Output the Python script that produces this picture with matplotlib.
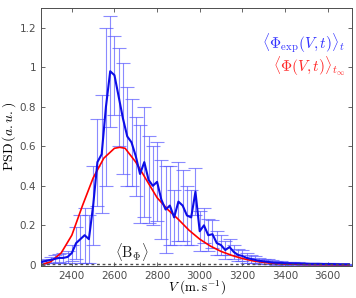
import matplotlib
matplotlib.use("Agg")
import matplotlib.pyplot as plt
import numpy as np

plt.rcParams['mathtext.fontset'] = 'cm'

# Experimental mean PSD (blue) with error bars
v_exp = [2260, 2280, 2300, 2320, 2340, 2360, 2380, 2400, 2420, 2440, 2460, 2480,
         2500, 2520, 2540, 2560, 2580, 2600, 2620, 2640, 2660, 2680, 2700, 2720,
         2740, 2760, 2780, 2800, 2820, 2840, 2860, 2880, 2900, 2920, 2940, 2960,
         2980, 3000, 3020, 3040, 3060, 3080, 3100, 3120, 3140, 3160, 3180, 3200,
         3220, 3240, 3260, 3280, 3300, 3320, 3340, 3360, 3380, 3400, 3420, 3440,
         3460, 3480, 3500, 3520, 3540, 3560, 3580, 3600, 3620, 3640, 3660, 3680, 3700]
psd_exp = [0.015, 0.02, 0.025, 0.03, 0.035, 0.035, 0.04, 0.06, 0.11, 0.13, 0.15, 0.13,
           0.30, 0.52, 0.56, 0.80, 0.98, 0.96, 0.85, 0.74, 0.65, 0.62, 0.55, 0.46,
           0.52, 0.43, 0.40, 0.42, 0.33, 0.28, 0.30, 0.24, 0.32, 0.30, 0.25, 0.24,
           0.37, 0.17, 0.20, 0.15, 0.155, 0.11, 0.10, 0.075, 0.09, 0.065, 0.05, 0.045,
           0.035, 0.03, 0.025, 0.02, 0.018, 0.015, 0.012, 0.01, 0.01, 0.008, 0.008, 0.007,
           0.007, 0.006, 0.006, 0.005, 0.005, 0.005, 0.004, 0.004, 0.004, 0.003, 0.003, 0.003, 0.003]
err_exp = [0.01, 0.012, 0.015, 0.02, 0.02, 0.025, 0.03, 0.04, 0.08, 0.12, 0.14, 0.12,
           0.20, 0.22, 0.30, 0.40, 0.28, 0.20, 0.25, 0.28, 0.25, 0.22, 0.20, 0.25,
           0.28, 0.22, 0.20, 0.20, 0.20, 0.22, 0.20, 0.14, 0.20, 0.18, 0.15, 0.14,
           0.12, 0.10, 0.09, 0.08, 0.07, 0.06, 0.05, 0.045, 0.04, 0.035, 0.03, 0.028,
           0.025, 0.02, 0.018, 0.016, 0.014, 0.012, 0.01, 0.009, 0.008, 0.007, 0.006, 0.006,
           0.005, 0.005, 0.005, 0.004, 0.004, 0.004, 0.004, 0.003, 0.003, 0.003, 0.003, 0.003, 0.003]

# Model PSD (red)
v_mod = [2270, 2300, 2350, 2400, 2450, 2500, 2550, 2600, 2625, 2650, 2700, 2750,
         2800, 2850, 2900, 2950, 3000, 3050, 3100, 3150, 3200, 3250, 3300, 3350,
         3400, 3500, 3600, 3700]
psd_mod = [0.005, 0.015, 0.06, 0.15, 0.30, 0.44, 0.54, 0.59, 0.595, 0.59, 0.52, 0.43,
           0.34, 0.28, 0.23, 0.175, 0.13, 0.095, 0.068, 0.048, 0.032, 0.02, 0.012, 0.007,
           0.004, 0.002, 0.001, 0.0005]

xticks = [2400, 2600, 2800, 3000, 3200, 3400, 3600]
yticks = [0, 0.2, 0.4, 0.6, 0.8, 1.0, 1.2]
ytick_labels = ["0", "0.2", "0.4", "0.6", "0.8", "1", "1.2"]

fig = plt.figure(figsize=(3.56, 2.98), dpi=100)
ax = fig.add_axes([0.115, 0.108, 0.874, 0.865])

ax.errorbar(v_exp, psd_exp, yerr=err_exp, fmt='none', ecolor=(0.35, 0.35, 1.0),
            alpha=0.7, elinewidth=0.8, capsize=5, capthick=0.8, zorder=2)
ax.plot(v_mod, psd_mod, color='red', lw=1.2, zorder=3)
ax.plot(v_exp, psd_exp, color=(0.05, 0.05, 0.9), lw=1.5, zorder=4)
ax.axhline(0.002, color='0.3', lw=1.0, ls=(0, (2, 2)), zorder=5)

ax.set_xlim(2255, 3715)
ax.set_ylim(-0.005, 1.3)
ax.set_xticks(xticks)
ax.set_yticks(yticks)
ax.set_yticklabels(ytick_labels)
ax.tick_params(direction='in', top=True, right=True, labelsize=7.5,
               labelcolor='0.3', color='0.3', length=3, width=0.6)
for s in ax.spines.values():
    s.set_color('0.3')
    s.set_linewidth(0.7)

ax.set_xlabel(r'$V\ (\mathrm{m.s}^{-1})$', fontsize=9.5, labelpad=-1)
ax.set_ylabel(r'$\mathrm{PSD}\,(a.u.)$', fontsize=10, labelpad=1)

ax.text(0.978, 0.865, r'$\langle\Phi_{\rm exp}(V,t)\rangle_t$', transform=ax.transAxes,
        color=(0.2, 0.2, 1.0), fontsize=11, ha='right', va='center')
ax.text(0.978, 0.775, r'$\langle\Phi(V,t)\rangle_{t_\infty}$', transform=ax.transAxes,
        color=(1.0, 0.15, 0.15), fontsize=11, ha='right', va='center')
ax.text(2680, 0.065, r'$\langle\mathrm{B}_\Phi\rangle$', fontsize=10.5,
        ha='center', va='center', color='0.1')

fig.savefig('out.png', dpi=100)
